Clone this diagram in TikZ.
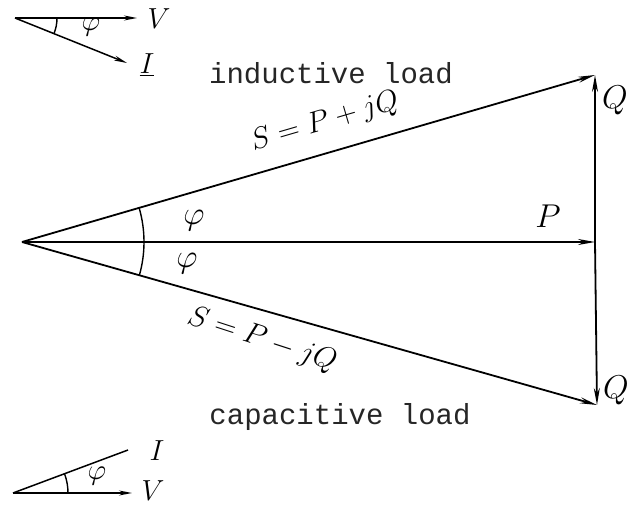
\RequirePackage{fix-cm}
\documentclass[tikz,border=0pt]{standalone}
\usepackage{fontspec}
\setmonofont{Liberation Mono}
\usetikzlibrary{arrows.meta}
\tikzset{
  vec/.style={line width=1.8pt,-{Stealth[length=17pt,width=6pt]}},
  svec/.style={line width=1.5pt,-{Stealth[length=13pt,width=5pt]}},
  plainline/.style={line width=1.5pt},
  arcline/.style={line width=1.4pt},
  sym/.style={font=\fontsize{33}{36}\selectfont},
  ssym/.style={font=\fontsize{29}{32}\selectfont},
  loadtxt/.style={font=\fontsize{29}{32}\selectfont\ttfamily, text=black!85, inner sep=1pt},
  eq/.style={font=\fontsize{30}{33}\selectfont, inner sep=0pt}
}
\begin{document}
\begin{tikzpicture}[x=1pt,y=1pt]
\useasboundingbox (0,0) rectangle (628,505);
% main diagram
\coordinate (O) at (22,263);
\coordinate (A) at (595,430);
\coordinate (B) at (595,263);
\coordinate (C) at (597,100);
\draw[vec] (O) -- (A);
\draw[vec] (O) -- (B);
\draw[vec] (O) -- (C);
\draw[vec] (B) -- (A);
\draw[vec] (B) -- (C);
\draw[arcline] ([shift={(0:122)}]O) arc[start angle=0,end angle=16.25,radius=122];
\draw[arcline] ([shift={(0:122)}]O) arc[start angle=0,end angle=-15.8,radius=122];
\node[sym] (phi1) at (194,284) {$\varphi$};
\node[sym] (phi2) at (187,241) {$\varphi$};
\node[sym] (Plab) at (548,289) {$P$};
\node[sym] (Q1) at (615,405) {$Q$};
\node[sym] (Q2) at (616,115) {$Q$};
\node[eq, rotate=16.25] (S1) at (325,383) {$S=P+jQ$};
\node[eq, rotate=-18] (S2) at (262,165) {$S=P-jQ$};
\node[loadtxt] (ind) at (331,432) {inductive load};
\node[loadtxt] (cap) at (340,88) {capacitive load};
% top-left small diagram
\coordinate (o1) at (15,487);
\coordinate (v1) at (137,487);
\coordinate (i1) at (127,442);
\draw[svec] (o1) -- (v1);
\draw[svec] (o1) -- (i1);
\draw[arcline] ([shift={(0:42)}]o1) arc[start angle=0,end angle=-21.9,radius=42];
\node[ssym] (V1) at (159,486) {$V$};
\node[ssym] (I1) at (147,440) {$\underline{I}$};
\node[ssym] (f1) at (91,478) {$\varphi$};
% bottom-left small diagram
\coordinate (o2) at (13,12);
\coordinate (v2) at (132,12);
\coordinate (i2) at (128,55);
\draw[svec] (o2) -- (v2);
\draw[plainline] (o2) -- (i2);
\draw[arcline] ([shift={(0:55)}]o2) arc[start angle=0,end angle=20.5,radius=55];
\node[ssym] (V2) at (153,14) {$V$};
\node[ssym] (I2) at (157,54) {$I$};
\node[ssym] (f2) at (97,29) {$\varphi$};
\end{tikzpicture}
\end{document}
